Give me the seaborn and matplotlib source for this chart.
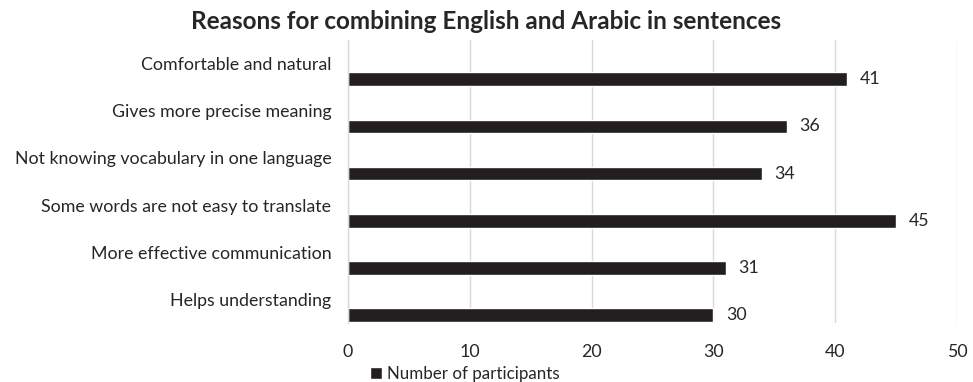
import numpy as np
import pandas as pd
import matplotlib.pyplot as plt
import seaborn as sns

reasons = [
    "Comfortable and natural",
    "Gives more precise meaning",
    "Not knowing vocabulary in one language",
    "Some words are not easy to translate",
    "More effective communication",
    "Helps understanding",
]
participants = [41, 36, 34, 45, 31, 30]
x_ticks = [0, 10, 20, 30, 40, 50]

sns.set_theme(style="white")
plt.rcParams['font.family'] = ['Lato', 'DejaVu Sans']
text_color = "#262626"

df = pd.DataFrame({"reason": reasons, "n": participants})
# Excel-style layout: bar sits below the category label
df["pos"] = np.arange(len(reasons)) + 0.33

fig = plt.figure(figsize=(9.73, 3.82), dpi=100)
ax = fig.add_axes([0.3577, 0.1545, 0.6259, 0.7405])

sns.barplot(data=df, x="n", y="pos", orient="h", native_scale=True,
            width=0.29, color="#231F20", saturation=1, ax=ax,
            label="Number of participants")
if ax.get_legend() is not None:
    ax.get_legend().remove()

ax.bar_label(ax.containers[0], padding=9, fontsize=12.8, color=text_color)

ax.set_yticks(np.arange(len(reasons)))
ax.set_yticklabels(reasons, fontsize=12.8, color=text_color)
ax.set_ylim(len(reasons) - 0.5, -0.5)
ax.set_xticks(x_ticks)
ax.set_xticklabels([str(t) for t in x_ticks], fontsize=12.8, color=text_color)
ax.set_xlim(0, 50)
ax.tick_params(axis="y", length=0, pad=12)
ax.tick_params(axis="x", length=0, pad=15)
ax.set_xlabel("")
ax.set_ylabel("")

ax.grid(axis="x", color="#D9D9D9", linewidth=1)
ax.set_axisbelow(True)
for side in ["top", "right", "bottom"]:
    ax.spines[side].set_visible(False)
ax.spines["left"].set_color("#D9D9D9")
ax.spines["left"].set_linewidth(1)

fig.suptitle("Reasons for combining English and Arabic in sentences",
             x=0.5, y=0.975, fontsize=17.5, fontweight="bold", color="#262626")

handles, labels = ax.get_legend_handles_labels()
fig.legend(handles, labels, loc="lower center", bbox_to_anchor=(0.478, -0.04),
           frameon=False, fontsize=12.2, handlelength=0.7, handleheight=0.7,
           handletextpad=0.3, labelcolor=text_color)

fig.savefig("out.png", dpi=100)
